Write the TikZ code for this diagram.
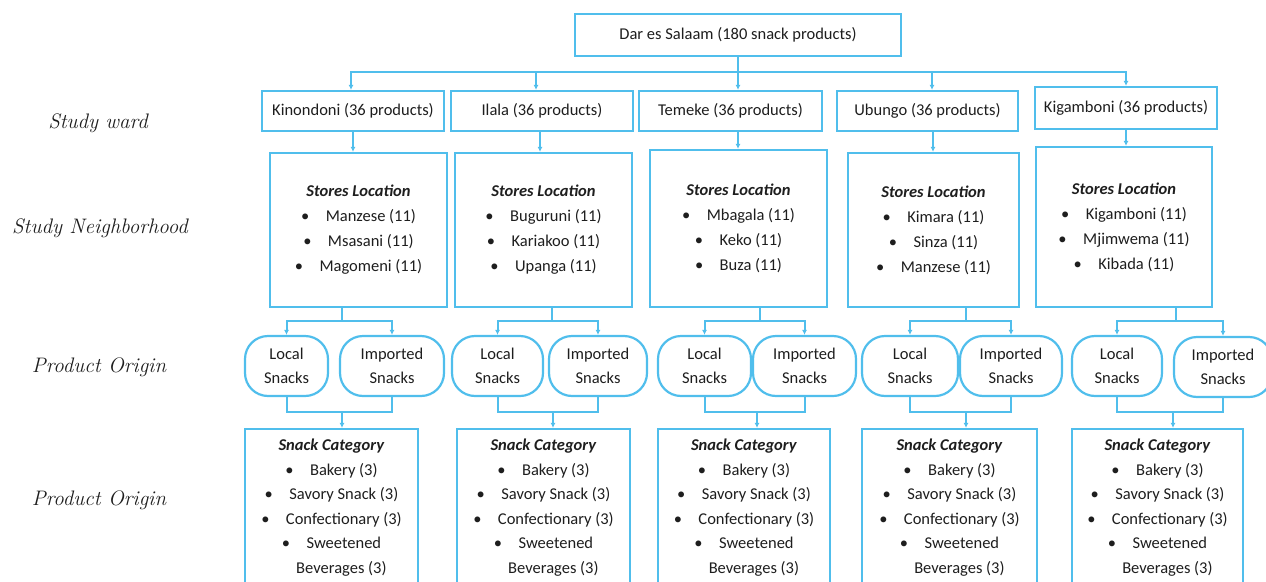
\documentclass[tikz,border=0pt]{standalone}
\usepackage{fontspec}
\newfontfamily\carl{Carlito}
\usetikzlibrary{arrows.meta}
\definecolor{lblue}{RGB}{80,190,236}
\definecolor{ink}{RGB}{30,30,30}
\tikzset{
  line/.style={draw=lblue, line width=2pt},
  arr/.style={line, -{Latex[length=5pt,width=5pt]}},
  bx/.style={draw=lblue, line width=2.2pt, fill=white, inner sep=0pt, align=center, text=ink,
     font=\carl\fontsize{16.5}{25}\selectfont},
  ov/.style={bx, rounded corners=23pt, minimum height=60pt, font=\carl\fontsize{16.5}{24}\selectfont},
  lab/.style={font=\itshape\fontsize{21}{24}\selectfont, inner sep=0pt, text=ink},
  cb/.style={bx, minimum height=157pt, font=\carl\fontsize{16.5}{24.5}\selectfont},
}
\newcommand{\bl}{\textbullet\hspace{1.0em}}
\newcommand{\cat}{\textbf{\textit{Snack Category}}\\\bl Bakery (3)\\\bl Savory Snack (3)\\\bl Confectionary (3)\\\bl Sweetened\\\hspace{1.2em}Beverages (3)}
\begin{document}
\begin{tikzpicture}[x=1pt,y=-1pt]
\useasboundingbox (0,0) rectangle (1266,581);
\clip (0,0) rectangle (1266,581);
% left labels
\node[lab] (l1) at (98,123) {Study ward};
\node[lab] (l2) at (100,228) {Study Neighborhood};
\node[lab] (l3) at (99,367) {Product Origin};
\node[lab] (l4) at (99,500) {Product Origin};
% top
\node[bx, minimum width=326pt, minimum height=42pt] (top) at (738,35) {Dar es Salaam (180 snack products)};
% wards
\node[bx, minimum width=182pt, minimum height=40pt] (wK) at (353,111) {Kinondoni (36 products)};
\node[bx, minimum width=182pt, minimum height=40pt] (wI) at (542,111) {Ilala (36 products)};
\node[bx, minimum width=183pt, minimum height=40pt] (wT) at (730.5,111) {Temeke (36 products)};
\node[bx, minimum width=181pt, minimum height=40pt] (wU) at (927.5,111) {Ubungo (36 products)};
\node[bx, minimum width=182pt, minimum height=42pt] (wG) at (1126,108) {Kigamboni (36 products)};
% neighborhoods
\node[bx, minimum width=177pt, minimum height=154pt] (nK) at (358.5,230) {\textbf{\textit{Stores Location}}\\\bl Manzese (11)\\\bl Msasani (11)\\\bl Magomeni (11)};
\node[bx, minimum width=177pt, minimum height=154pt] (nI) at (543.5,230) {\textbf{\textit{Stores Location}}\\\bl Buguruni (11)\\\bl Kariakoo (11)\\\bl Upanga (11)};
\node[bx, minimum width=177pt, minimum height=157pt] (nT) at (738.5,228.5) {\textbf{\textit{Stores Location}}\\\bl Mbagala (11)\\\bl Keko (11)\\\bl Buza (11)};
\node[bx, minimum width=171pt, minimum height=154pt] (nU) at (933.5,230) {\textbf{\textit{Stores Location}}\\\bl Kimara (11)\\\bl Sinza (11)\\\bl Manzese (11)};
\node[bx, minimum width=176pt, minimum height=160pt] (nG) at (1124,227) {\textbf{\textit{Stores Location}}\\\bl Kigamboni (11)\\\bl Mjimwema (11)\\\bl Kibada (11)};
% ovals
\node[ov, minimum width=83pt] (oKL) at (286.5,366) {Local\\Snacks};
\node[ov, minimum width=104pt] (oKI) at (392,366) {Imported\\Snacks};
\node[ov, minimum width=91pt] (oIL) at (497.5,366) {Local\\Snacks};
\node[ov, minimum width=98pt] (oII) at (598,366) {Imported\\Snacks};
\node[ov, minimum width=93pt] (oTL) at (704.5,366) {Local\\Snacks};
\node[ov, minimum width=103pt] (oTI) at (804.5,366) {Imported\\Snacks};
\node[ov, minimum width=96pt] (oUL) at (910,366) {Local\\Snacks};
\node[ov, minimum width=102pt] (oUI) at (1011,366) {Imported\\Snacks};
\node[ov, minimum width=90pt] (oGL) at (1117,366) {Local\\Snacks};
\node[ov, minimum width=98pt] (oGI) at (1223,367) {Imported\\Snacks};
% categories
\node[cb, minimum width=173pt] (cK) at (331.5,507.5) {\cat};
\node[cb, minimum width=173pt] (cI) at (543.5,507.5) {\cat};
\node[cb, minimum width=172pt] (cT) at (744,507.5) {\cat};
\node[cb, minimum width=175pt] (cU) at (949.5,507.5) {\cat};
\node[cb, minimum width=171pt] (cG) at (1157.5,507.5) {\cat};
% top to wards
\draw[line] (top.south) -- (738,72) coordinate (bus);
\draw[arr] (bus) -| ([xshift=-2pt]wK.north);
\draw[arr] (bus) -| ([xshift=-6pt]wI.north);
\draw[arr] (bus) -| ([xshift=7.5pt]wT.north);
\draw[arr] (bus) -| ([xshift=4.5pt]wU.north);
\draw[arr] (bus) -| (wG.north);
% wards to neighborhoods
\draw[arr] (wK.south) -- (wK.south |- nK.north);
\draw[arr] ([xshift=-2pt]wI.south) -- ([xshift=-2pt]wI.south |- nI.north);
\draw[arr] ([xshift=7.5pt]wT.south) -- ([xshift=7.5pt]wT.south |- nT.north);
\draw[arr] ([xshift=5.5pt]wU.south) -- ([xshift=5.5pt]wU.south |- nU.north);
\draw[arr] (wG.south) -- (wG.south |- nG.north);
% neighborhoods to ovals
\foreach \n/\x/\l/\r in {K/342/oKL/oKI, I/552/oIL/oII, T/760/oTL/oTI, U/966/oUL/oUI, G/1176/oGL/oGI}{
  \coordinate (t\n) at (\x,321);
  \draw[line] (t\n |- n\n.south) -- (t\n) coordinate (u\n);
  \draw[arr] (u\n) -| (\l.north);
  \draw[arr] (u\n) -| (\r.north);
}
% ovals to categories
\foreach \n/\x/\l/\r in {K/342/oKL/oKI, I/553/oIL/oII, T/757/oTL/oTI, U/966/oUL/oUI, G/1173/oGL/oGI}{
  \coordinate (j\n) at (\x,412);
  \draw[line] (\l.south) |- (j\n) -| (\r.south);
  \draw[arr] (j\n) -- (j\n |- c\n.north);
}
\end{tikzpicture}
\end{document}
